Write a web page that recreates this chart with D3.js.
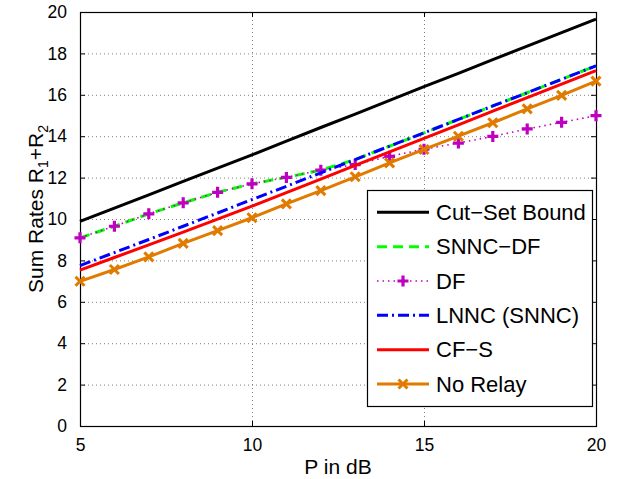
<!DOCTYPE html>
<html>
<head>
<meta charset="utf-8">
<script src="https://cdn.jsdelivr.net/npm/d3@7"></script>
<style>
  body { margin: 0; background: #fff; }
  svg { display: block; font-family: "Liberation Sans", Arial, Helvetica, sans-serif; }
</style>
</head>
<body>
<svg id="chart" width="617" height="479"></svg>
<script>
// Transmit power (dB)
const powerDb = [5, 6, 7, 8, 9, 10, 11, 12, 13, 14, 15, 16, 17, 18, 19, 20];

// Sum rates R1 + R2 for each scheme
const cutSetBound = [9.89, 10.53, 11.17, 11.82, 12.46, 13.10, 13.76, 14.42, 15.07, 15.73, 16.39, 17.04, 17.70, 18.35, 19.00, 19.66];
const snncDf      = [9.09, 9.65, 10.25, 10.78, 11.29, 11.70, 12.01, 12.36, 12.87, 13.52, 14.16, 14.81, 15.46, 16.10, 16.75, 17.40];
const dfRates     = [9.09, 9.65, 10.25, 10.78, 11.29, 11.70, 12.01, 12.36, 12.63, 13.03, 13.37, 13.67, 13.99, 14.35, 14.67, 14.99];
const lnncRates   = [7.75, 8.38, 9.01, 9.65, 10.29, 10.94, 11.58, 12.23, 12.87, 13.52, 14.16, 14.81, 15.46, 16.10, 16.75, 17.40];
const cfsRates    = [7.53, 8.14, 8.75, 9.37, 9.99, 10.62, 11.27, 11.93, 12.59, 13.24, 13.90, 14.55, 15.21, 15.86, 16.52, 17.17];
const noRelay     = [6.99, 7.56, 8.17, 8.82, 9.44, 10.06, 10.73, 11.37, 12.04, 12.71, 13.36, 14.00, 14.65, 15.32, 15.97, 16.66];

// Axis ticks and labels
const xTicks = [5, 10, 15, 20];
const yTicks = [0, 2, 4, 6, 8, 10, 12, 14, 16, 18, 20];
const seriesNames = ["Cut\u2212Set Bound", "SNNC\u2212DF", "DF", "LNNC (SNNC)", "CF\u2212S", "No Relay"];

const svg = d3.select("#chart");
const plot = { left: 80, right: 596, top: 12, bottom: 426 };

const x = d3.scaleLinear().domain([5, 20]).range([plot.left, plot.right]);
const y = d3.scaleLinear().domain([0, 20]).range([plot.bottom, plot.top]);

// Line styles per scheme
const styles = [
  { color: "#000000", width: 3,   dash: null,        marker: null },
  { color: "#00ff00", width: 3,   dash: "10,6",      marker: null },
  { color: "#c000c0", width: 1.6, dash: "1.5,4",     marker: "plus" },
  { color: "#0000ff", width: 3,   dash: "11,4,2,4",  marker: null },
  { color: "#ff0000", width: 3,   dash: null,        marker: null },
  { color: "#e07b00", width: 3,   dash: null,        marker: "cross" }
];
const seriesValues = [cutSetBound, snncDf, dfRates, lnncRates, cfsRates, noRelay];

// Grid (dotted)
const grid = svg.append("g").attr("stroke", "#808080").attr("stroke-width", 1).attr("stroke-dasharray", "1,3");
grid.selectAll("line.gx").data(xTicks.filter(t => t > 5 && t < 20)).join("line")
  .attr("x1", d => x(d) + 0.5).attr("x2", d => x(d) + 0.5)
  .attr("y1", plot.top).attr("y2", plot.bottom);
grid.selectAll("line.gy").data(yTicks.filter(t => t > 0 && t < 20)).join("line")
  .attr("x1", plot.left).attr("x2", plot.right)
  .attr("y1", d => y(d) + 0.5).attr("y2", d => y(d) + 0.5);

// Axes with inward ticks on all sides
const axisStyle = g => {
  g.select(".domain").remove();
  g.selectAll(".tick line").attr("stroke", "#000").attr("stroke-width", 1);
  g.selectAll(".tick text").attr("fill", "#000").attr("font-size", "17.5px").attr("font-family", null);
};
svg.append("g").attr("transform", `translate(0,${plot.bottom})`)
  .call(d3.axisBottom(x).tickValues(xTicks).tickSize(-5).tickPadding(13).tickFormat(d3.format("d")))
  .call(axisStyle);
svg.append("g").attr("transform", `translate(0,${plot.top})`)
  .call(d3.axisTop(x).tickValues(xTicks).tickSize(-5).tickFormat(""))
  .call(axisStyle);
svg.append("g").attr("transform", `translate(${plot.left},0)`)
  .call(d3.axisLeft(y).tickValues(yTicks).tickSize(-5).tickPadding(13).tickFormat(d3.format("d")))
  .call(axisStyle);
svg.append("g").attr("transform", `translate(${plot.right},0)`)
  .call(d3.axisRight(y).tickValues(yTicks).tickSize(-5).tickFormat(""))
  .call(axisStyle);

// Plot box
svg.append("rect")
  .attr("x", plot.left + 0.5).attr("y", plot.top + 0.5)
  .attr("width", plot.right - plot.left).attr("height", plot.bottom - plot.top)
  .attr("fill", "none").attr("stroke", "#000").attr("stroke-width", 1.2);

// Marker drawing helpers
function drawMarker(g, kind, cx, cy, color) {
  if (kind === "plus") {
    g.append("path")
      .attr("d", `M${cx - 5.5},${cy}H${cx + 5.5}M${cx},${cy - 5.5}V${cy + 5.5}`)
      .attr("stroke", color).attr("stroke-width", 3.2).attr("fill", "none");
  } else if (kind === "cross") {
    g.append("path")
      .attr("d", `M${cx - 4.5},${cy - 4.5}L${cx + 4.5},${cy + 4.5}M${cx - 4.5},${cy + 4.5}L${cx + 4.5},${cy - 4.5}`)
      .attr("stroke", color).attr("stroke-width", 3).attr("fill", "none");
  }
}

// Series lines and markers
const line = d3.line().x((d, i) => x(powerDb[i])).y(d => y(d));
seriesValues.forEach((vals, k) => {
  const s = styles[k];
  const g = svg.append("g");
  g.append("path").datum(vals)
    .attr("d", line)
    .attr("fill", "none")
    .attr("stroke", s.color)
    .attr("stroke-width", s.width)
    .attr("stroke-dasharray", s.dash)
    .attr("stroke-linejoin", "round");
  if (s.marker) {
    vals.forEach((v, i) => drawMarker(g, s.marker, x(powerDb[i]), y(v), s.color));
  }
});

// Axis labels
svg.append("text")
  .attr("x", (plot.left + plot.right) / 2).attr("y", 474)
  .attr("text-anchor", "middle").attr("font-size", "21px")
  .text("P in dB");

const yl = svg.append("text")
  .attr("transform", "translate(43,209) rotate(-90)")
  .attr("text-anchor", "middle").attr("font-size", "21px");
yl.append("tspan").text("Sum Rates R");
yl.append("tspan").attr("font-size", "14px").attr("dy", 5).text("1");
yl.append("tspan").attr("dy", -5).text("+R");
yl.append("tspan").attr("font-size", "14px").attr("dy", 5).text("2");

// Legend
const legend = { x: 367, y: 190, w: 225, h: 216, rowTop: 212.3, rowStep: 34.35 };
const lg = svg.append("g");
lg.append("rect")
  .attr("x", legend.x + 0.5).attr("y", legend.y + 0.5)
  .attr("width", legend.w).attr("height", legend.h)
  .attr("fill", "#fff").attr("stroke", "#000").attr("stroke-width", 1.2);
seriesNames.forEach((name, k) => {
  const s = styles[k];
  const cy = legend.rowTop + k * legend.rowStep;
  lg.append("line")
    .attr("x1", 377).attr("x2", 429).attr("y1", cy).attr("y2", cy)
    .attr("stroke", s.color).attr("stroke-width", s.width)
    .attr("stroke-dasharray", s.dash);
  if (s.marker) drawMarker(lg, s.marker, 403, cy, s.color);
  lg.append("text")
    .attr("x", 436).attr("y", cy + 7.5)
    .attr("font-size", "22px").attr("fill", "#000")
    .text(name);
});
</script>
</body>
</html>
